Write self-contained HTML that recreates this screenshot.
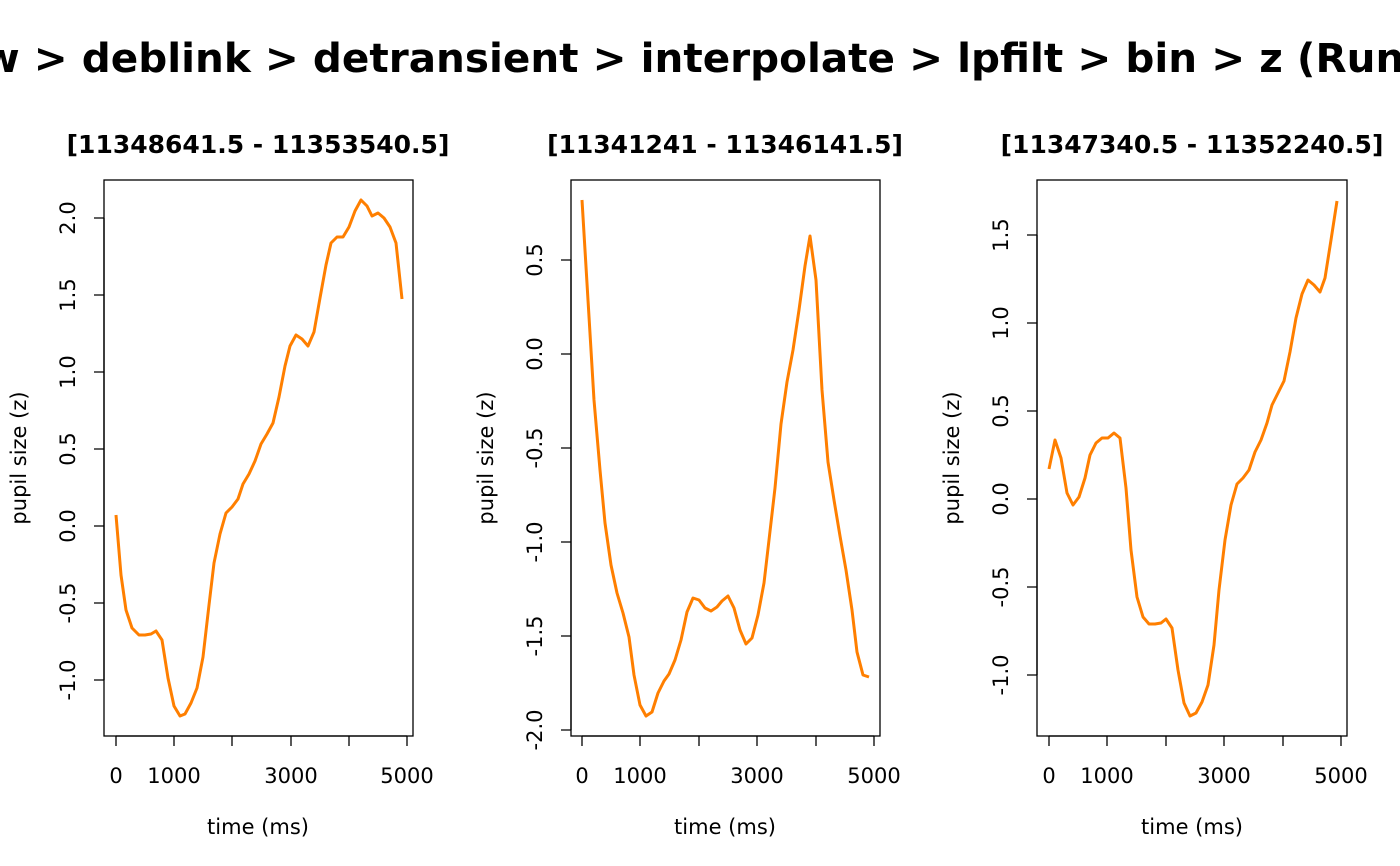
<!DOCTYPE html>
<html><head><meta charset="utf-8"><style>
html,body{margin:0;padding:0;background:#fff}
svg{display:block}
text{font-family:"DejaVu Sans","Liberation Sans",sans-serif;fill:#000}
</style></head><body>
<svg width="1400" height="866" viewBox="0 0 1400 866" xmlns="http://www.w3.org/2000/svg">
<text x="700" y="72" font-size="40.5" font-weight="bold" text-anchor="middle">raw &gt; deblink &gt; detransient &gt; interpolate &gt; lpfilt &gt; bin &gt; z (Run 1)</text>

<g stroke="#000" stroke-width="1.3" fill="none">
<rect x="104" y="180" width="309" height="556"/>
<rect x="571" y="180" width="309" height="556"/>
<rect x="1037" y="180" width="310" height="556"/>
<path d="M116 736V746M174 736V746M232 736V746M291 736V746M349 736V746M407 736V746M116 736H407"/>
<path d="M582 736V746M640 736V746M699 736V746M757 736V746M816 736V746M874 736V746M582 736H874"/>
<path d="M1049 736V746M1107 736V746M1166 736V746M1224 736V746M1283 736V746M1341 736V746M1049 736H1341"/>
<path d="M104 218H94M104 295H94M104 372H94M104 449H94M104 526H94M104 603H94M104 680H94M104 218V680"/>
<path d="M571 260H561M571 354H561M571 448H561M571 542H561M571 636H561M571 730H561M571 260V730"/>
<path d="M1037 235H1027M1037 323H1027M1037 411H1027M1037 499H1027M1037 587H1027M1037 675H1027M1037 235V675"/>
</g>

<g font-size="21" text-anchor="middle">
<text x="116" y="783">0</text><text x="174" y="783">1000</text><text x="291" y="783">3000</text><text x="407" y="783">5000</text>
<text x="582" y="783">0</text><text x="640" y="783">1000</text><text x="757" y="783">3000</text><text x="874" y="783">5000</text>
<text x="1049" y="783">0</text><text x="1107" y="783">1000</text><text x="1224" y="783">3000</text><text x="1341" y="783">5000</text>
<text x="258" y="834">time (ms)</text><text x="725" y="834">time (ms)</text><text x="1192" y="834">time (ms)</text>
</g>
<g font-size="21" text-anchor="middle">
<text transform="translate(75,218) rotate(-90)">2.0</text>
<text transform="translate(75,295) rotate(-90)">1.5</text>
<text transform="translate(75,372) rotate(-90)">1.0</text>
<text transform="translate(75,449) rotate(-90)">0.5</text>
<text transform="translate(75,526) rotate(-90)">0.0</text>
<text transform="translate(75,603) rotate(-90)">-0.5</text>
<text transform="translate(75,680) rotate(-90)">-1.0</text>
<text transform="translate(26,458) rotate(-90)">pupil size (z)</text>
<text transform="translate(542,260) rotate(-90)">0.5</text>
<text transform="translate(542,354) rotate(-90)">0.0</text>
<text transform="translate(542,448) rotate(-90)">-0.5</text>
<text transform="translate(542,542) rotate(-90)">-1.0</text>
<text transform="translate(542,636) rotate(-90)">-1.5</text>
<text transform="translate(542,730) rotate(-90)">-2.0</text>
<text transform="translate(493,458) rotate(-90)">pupil size (z)</text>
<text transform="translate(1008,235) rotate(-90)">1.5</text>
<text transform="translate(1008,323) rotate(-90)">1.0</text>
<text transform="translate(1008,411) rotate(-90)">0.5</text>
<text transform="translate(1008,499) rotate(-90)">0.0</text>
<text transform="translate(1008,587) rotate(-90)">-0.5</text>
<text transform="translate(1008,675) rotate(-90)">-1.0</text>
<text transform="translate(959,458) rotate(-90)">pupil size (z)</text>
</g>
<g font-size="25" font-weight="bold" text-anchor="middle">
<text x="258" y="153">[11348641.5 - 11353540.5]</text>
<text x="725" y="153">[11341241 - 11346141.5]</text>
<text x="1192" y="153">[11347340.5 - 11352240.5]</text>
</g>

<g stroke="#ff7f00" stroke-width="3" fill="none" stroke-linejoin="round">
<polyline points="116,515 121,575 126,610 132,628 139,635 145,635 151,634 156,631 162,640 168,678 174,706 180,716 185,714 191,703 197,688 203,657 209,605 214,563 220,534 226,513 232,507 238,499 243,484 249,474 255,461 261,444 267,434 273,423 279,397 285,366 290,346 296,335 302,339 308,346 314,332 320,298 326,265 331,243 337,237 343,237 349,227 355,211 361,200 367,206 372,216 378,213 384,218 390,227 396,243 402,299"/>
<polyline points="582,200 588,300 594,400 600,470 605,523 611,565 617,593 623,613 629,637 634,675 640,705 646,716 652,712 658,693 664,681 669,674 675,660 681,640 687,612 693,598 699,600 705,608 711,611 717,607 722,601 728,596 734,608 740,630 746,644 752,638 758,615 764,583 769,540 775,488 781,424 787,382 793,350 799,310 805,266 810,236 816,280 822,390 828,462 834,500 840,536 846,570 852,610 857,652 863,675 869,677"/>
<polyline points="1049,469 1055,440 1061,458 1067,493 1073,505 1079,497 1085,478 1090,455 1096,443 1102,438 1108,438 1114,433 1120,438 1126,488 1131,550 1137,597 1143,617 1149,624 1155,624 1161,623 1166,619 1172,628 1178,670 1184,703 1190,716 1196,713 1202,702 1208,685 1214,645 1219,590 1225,540 1231,505 1237,484 1243,478 1249,470 1255,452 1261,440 1267,423 1272,405 1278,393 1284,381 1290,352 1296,318 1302,294 1308,280 1314,285 1320,292 1325,278 1331,240 1337,201"/>
</g>
</svg>
</body></html>
